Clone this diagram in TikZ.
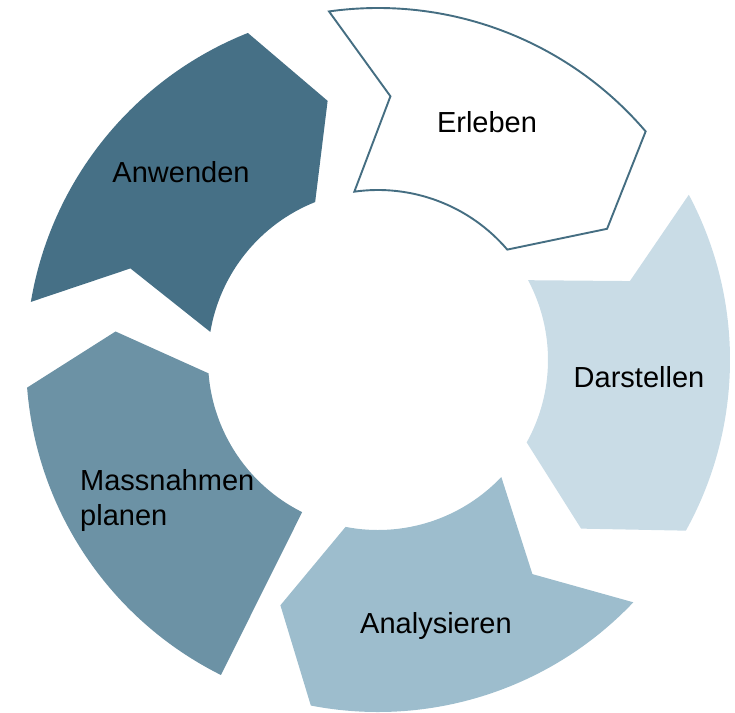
\documentclass[tikz,border=0pt]{standalone}
\usepackage{fontspec}
\setmainfont{Liberation Sans}
\usetikzlibrary{calc}

\definecolor{segA}{HTML}{C9DCE6}
\definecolor{segB}{HTML}{9DBDCD}
\definecolor{segC}{HTML}{6C92A5}
\definecolor{segD}{HTML}{467086}
\definecolor{segLine}{HTML}{456E82}

% annular arrow segment: #2 = tail angle, #3 = head angle, #4 = notch depth (deg)
\newcommand{\cycleseg}[4][]{%
  \path[#1] ($(O)+(#2:\Rout)$) -- ($(O)+(#2-#4:\Rmid)$) -- ($(O)+(#2:\Rin)$)
    arc[start angle=#2, end angle=#3, radius=\Rin]
    -- ($(O)+(#3-10.7:\Rmid)$) -- ($(O)+(#3:\Rout)$)
    arc[start angle=#3, end angle=#2, radius=\Rout] -- cycle;}

\begin{document}
\begin{tikzpicture}[x=1pt,y=1pt,
  label/.style={font=\fontsize{29}{35}\selectfont, text=black, inner sep=0pt}]
  \useasboundingbox (0,0) rectangle (735,-712);
  \coordinate (O) at (378,-360);
  \def\Rout{352}
  \def\Rmid{264}
  \def\Rin{170}

  % segments, clockwise from the top
  \cycleseg[fill=white, draw=segLine, line width=1.9pt, line join=miter]{98}{40.5}{10.7}
  \cycleseg[fill=segA]{28}{-29}{10.6}
  \cycleseg[fill=segB]{-43.5}{-101}{10.7}
  \cycleseg[fill=segC]{243.5}{184.5}{0}
  \cycleseg[fill=segD]{170.5}{111.7}{10.8}

  % labels
  \node[label] (erleben) at (487,-122) {Erleben};
  \node[label] (darstellen) at (639,-377) {Darstellen};
  \node[label] (analysieren) at (436,-626) {Analysieren};
  \node[label, align=left, anchor=west] (massnahmen) at (80,-500) {Massnahmen\\planen};
  \node[label] (anwenden) at (181,-172) {Anwenden};
\end{tikzpicture}
\end{document}
